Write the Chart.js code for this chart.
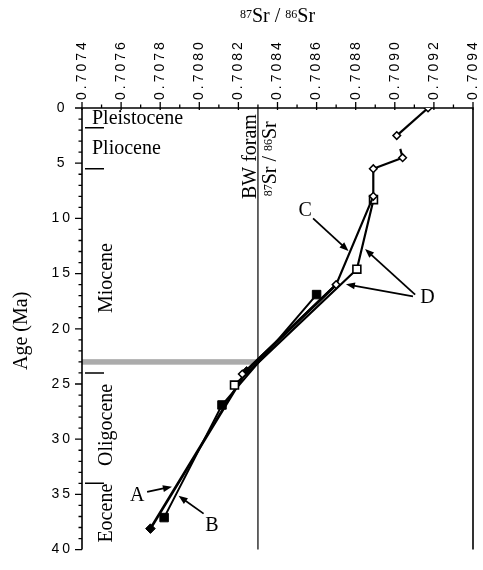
<!DOCTYPE html>
<html>
<head>
<meta charset="utf-8">
<script src="https://cdn.jsdelivr.net/npm/chart.js@4.4.1/dist/chart.umd.min.js"></script>
<style>
  html, body { margin: 0; background: #fff; }
  #wrap { width: 483px; height: 570px; }
</style>
</head>
<body>
<div id="wrap"><canvas id="srChart"></canvas></div>
<script>
// ---- data (age in Ma, 87Sr/86Sr) ----
const openDiamondAge = [0.0, 2.5, 4.5, 5.5, 8.0, 16.0, 24.1];
const openDiamondSr  = [0.70917, 0.70901, 0.70904, 0.70889, 0.70889, 0.70870, 0.70822];

const filledDiamondAge = [16.0, 23.8, 38.1];
const filledDiamondSr  = [0.70870, 0.708242, 0.70775];

const filledSquareAge = [16.9, 26.9, 37.1];
const filledSquareSr  = [0.70860, 0.708116, 0.70782];

const openSquareAge = [8.3, 14.6, 25.1];
const openSquareSr  = [0.708891, 0.708806, 0.70818];

const srTicks  = [0.7074, 0.7076, 0.7078, 0.7080, 0.7082, 0.7084, 0.7086, 0.7088, 0.7090, 0.7092, 0.7094];
const ageTicks = [0, 5, 10, 15, 20, 25, 30, 35, 40];

const bwForamSr = 0.7083;
const shadeAge = [22.75, 23.25];

const epochNames = ['Pleistocene', 'Pliocene', 'Miocene', 'Oligocene', 'Eocene'];
const epochBoundaries = [1.8, 5.5, 24.0, 34.0];

// ---- layout of the text bits ----
const epochLabelAge = [1.42, 4.14, 15.4, 28.7, 36.7];   // baseline for the first two, centre for the rest
const notes = [
  { text: 'C', at: [0.708542, 9.28],  arrows: [[[0.708582, 10.0], [0.708763, 12.95]]] },
  { text: 'D', at: [0.709167, 17.2],  arrows: [[[0.709104, 16.9], [0.708848, 12.78]],
                                              [[0.709093, 17.07], [0.70875, 15.97]]] },
  { text: 'A', at: [0.707682, 35.13], arrows: [[[0.707733, 34.78], [0.70786, 34.3]]] },
  { text: 'B', at: [0.708065, 37.86], arrows: [[[0.708022, 36.74], [0.707894, 35.13]]] }
];

const SERIF = '"Liberation Serif", "Times New Roman", serif';
const SANS = '"Liberation Sans", Arial, sans-serif';

const pts = (ages, srs) => ages.map((a, i) => ({ x: srs[i], y: a }));

// the top curve is broken in two places
const gapDash = { 1: [0, 0.6, 0.4, 1], 3: [0.28, 0.4, 1, 0] };

function drawArrow(ctx, x1, y1, x2, y2) {
  const ang = Math.atan2(y2 - y1, x2 - x1);
  const L = 9, W = 3.5;
  const c = Math.cos(ang), s = Math.sin(ang);
  ctx.lineWidth = 1.8;
  ctx.beginPath();
  ctx.moveTo(x1, y1);
  ctx.lineTo(x2 - c * L * 0.7, y2 - s * L * 0.7);
  ctx.stroke();
  ctx.beginPath();
  ctx.moveTo(x2, y2);
  ctx.lineTo(x2 - c * L + s * W, y2 - s * L - c * W);
  ctx.lineTo(x2 - c * L - s * W, y2 - s * L + c * W);
  ctx.closePath();
  ctx.fill();
}

// "87Sr / 86Sr" with superscripts, baseline at y
function srLabel(ctx, x, y, big, small, centre) {
  const parts = [['87', small, true], ['Sr', big], [' / ', big], ['86', small, true], ['Sr', big]];
  const widths = parts.map(p => { ctx.font = p[1] + 'px ' + SERIF; return ctx.measureText(p[0]).width; });
  const total = widths.reduce((a, b) => a + b, 0);
  let cx = centre ? x - total / 2 : x;
  ctx.textAlign = 'left';
  ctx.textBaseline = 'alphabetic';
  parts.forEach((p, i) => {
    ctx.font = p[1] + 'px ' + SERIF;
    ctx.fillText(p[0], cx, p[2] ? y - big * 0.19 : y);
    cx += widths[i];
  });
}

const decor = {
  id: 'decor',
  beforeDraw(chart) {
    chart.ctx.letterSpacing = '3px';
  },
  beforeDatasetsDraw(chart) {
    const { ctx, chartArea: a, scales: { x, y } } = chart;
    ctx.letterSpacing = '0px';
    ctx.save();
    ctx.strokeStyle = '#000';

    // Oligocene/Miocene boundary shading
    const bx = x.getPixelForValue(bwForamSr);
    const s0 = y.getPixelForValue(shadeAge[0]), s1 = y.getPixelForValue(shadeAge[1]);
    ctx.fillStyle = '#ababab';
    ctx.fillRect(a.left, s0, bx - a.left, s1 - s0);

    // bottom-water foram line
    ctx.lineWidth = 1.2;
    ctx.beginPath();
    ctx.moveTo(bx, a.top);
    ctx.lineTo(bx, a.bottom);
    ctx.stroke();

    // frame: left, top, right
    ctx.lineWidth = 1.6;
    ctx.beginPath();
    ctx.moveTo(a.left, a.bottom);
    ctx.lineTo(a.left, a.top);
    ctx.lineTo(a.right, a.top);
    ctx.lineTo(a.right, a.bottom);
    ctx.stroke();

    // ticks
    ctx.lineWidth = 1.3;
    ctx.beginPath();
    x.ticks.forEach((t, i) => {
      const px = x.getPixelForValue(t.value);
      ctx.moveTo(px, a.top + 2);
      ctx.lineTo(px, a.top - 6);
      const next = x.ticks[i + 1];
      if (next) {
        const mx = x.getPixelForValue((t.value + next.value) / 2);
        ctx.moveTo(mx, a.top);
        ctx.lineTo(mx, a.top - 3.5);
      }
    });
    for (let age = 0; age <= 40; age++) {
      const py = y.getPixelForValue(age);
      ctx.moveTo(a.left, py);
      ctx.lineTo(a.left - (age % 5 === 0 ? 7 : 3.5), py);
    }
    ctx.stroke();

    // x tick labels, read upwards, centred on their ticks
    ctx.fillStyle = '#000';
    ctx.font = '14px ' + SANS;
    ctx.letterSpacing = '3px';
    x.ticks.forEach(t => {
      ctx.save();
      ctx.translate(x.getPixelForValue(t.value), a.top - 8);
      ctx.rotate(-Math.PI / 2);
      ctx.textAlign = 'left';
      ctx.textBaseline = 'middle';
      ctx.fillText(t.value.toFixed(4), 0, 0);
      ctx.restore();
    });
    ctx.letterSpacing = '0px';

    // epoch boundaries
    ctx.lineWidth = 1.5;
    ctx.beginPath();
    epochBoundaries.forEach(b => {
      const py = y.getPixelForValue(b);
      ctx.moveTo(a.left + 3, py);
      ctx.lineTo(a.left + 22, py);
    });
    ctx.stroke();
    ctx.restore();
  },
  afterDraw(chart) {
    const { ctx, chartArea: a, scales: { x, y } } = chart;
    ctx.save();
    ctx.fillStyle = '#000';
    ctx.strokeStyle = '#000';

    // epoch names
    ctx.font = '20px ' + SERIF;
    epochNames.forEach((name, i) => {
      const py = y.getPixelForValue(epochLabelAge[i]);
      if (i < 2) {
        ctx.textAlign = 'left';
        ctx.textBaseline = 'alphabetic';
        ctx.fillText(name, a.left + 10, py);
      } else {
        ctx.save();
        ctx.translate(a.left + 30, py);
        ctx.rotate(-Math.PI / 2);
        ctx.textAlign = 'center';
        ctx.textBaseline = 'alphabetic';
        ctx.fillText(name, 0, 0);
        ctx.restore();
      }
    });

    // BW foram label beside its line
    const bx = x.getPixelForValue(bwForamSr);
    ctx.save();
    ctx.translate(bx - 2, y.getPixelForValue(4.4));
    ctx.rotate(-Math.PI / 2);
    ctx.font = '20px ' + SERIF;
    ctx.textAlign = 'center';
    ctx.textBaseline = 'alphabetic';
    ctx.fillText('BW foram', 0, 0);
    ctx.restore();
    ctx.save();
    ctx.translate(bx + 18, y.getPixelForValue(4.6));
    ctx.rotate(-Math.PI / 2);
    srLabel(ctx, 0, 0, 20, 12, true);
    ctx.restore();

    // axis titles
    srLabel(ctx, (a.left + a.right) / 2, 22, 20, 12, true);
    ctx.save();
    ctx.translate(27, (a.top + a.bottom) / 2 + 2);
    ctx.rotate(-Math.PI / 2);
    ctx.font = '20px ' + SERIF;
    ctx.textAlign = 'center';
    ctx.textBaseline = 'alphabetic';
    ctx.fillText('Age (Ma)', 0, 0);
    ctx.restore();

    // curve labels and arrows
    notes.forEach(n => {
      ctx.font = '20px ' + SERIF;
      ctx.textAlign = 'center';
      ctx.textBaseline = 'middle';
      ctx.fillText(n.text, x.getPixelForValue(n.at[0]), y.getPixelForValue(n.at[1]));
      n.arrows.forEach(([f, t]) => {
        drawArrow(ctx, x.getPixelForValue(f[0]), y.getPixelForValue(f[1]),
                       x.getPixelForValue(t[0]), y.getPixelForValue(t[1]));
      });
    });
    ctx.restore();
  }
};

new Chart(document.getElementById('srChart'), {
  type: 'scatter',
  data: {
    datasets: [
      {
        label: 'open diamonds',
        data: pts(openDiamondAge, openDiamondSr),
        showLine: true,
        order: 1,
        borderColor: '#000',
        borderWidth: 2.2,
        pointStyle: 'rectRot',
        pointRadius: 3.8,
        pointBackgroundColor: '#fff',
        pointBorderColor: '#000',
        pointBorderWidth: 1.5,
        segment: {
          borderDash: c => {
            const f = gapDash[c.p0DataIndex];
            if (!f) return [];
            const len = Math.hypot(c.p1.x - c.p0.x, c.p1.y - c.p0.y);
            return f.map(v => v * len);
          }
        }
      },
      {
        label: 'open squares',
        data: pts(openSquareAge, openSquareSr),
        showLine: true,
        order: 2,
        borderColor: '#000',
        borderWidth: 2.2,
        pointStyle: 'rect',
        pointRadius: 5.6,
        pointBackgroundColor: '#fff',
        pointBorderColor: '#000',
        pointBorderWidth: 1.6
      },
      {
        label: 'filled squares',
        data: pts(filledSquareAge, filledSquareSr),
        showLine: true,
        order: 3,
        borderColor: '#000',
        borderWidth: 2,
        pointStyle: 'rect',
        pointRadius: 6,
        pointBackgroundColor: '#000',
        pointBorderColor: '#000',
        pointBorderWidth: 1
      },
      {
        label: 'filled diamonds',
        data: pts(filledDiamondAge, filledDiamondSr),
        showLine: true,
        order: 4,
        borderColor: '#000',
        borderWidth: 2.8,
        pointStyle: 'rectRot',
        pointRadius: [0, 4.2, 4.8],
        pointBackgroundColor: '#000',
        pointBorderColor: '#000',
        pointBorderWidth: 1
      }
    ]
  },
  options: {
    responsive: true,
    maintainAspectRatio: false,
    animation: false,
    layout: { padding: { top: 0, left: 0, right: 10, bottom: 8 } },
    plugins: { legend: { display: false }, tooltip: { enabled: false } },
    scales: {
      x: {
        type: 'linear',
        position: 'top',
        min: 0.7074,
        max: 0.7094,
        grid: { display: false, drawTicks: false },
        border: { display: false },
        afterBuildTicks: s => { s.ticks = srTicks.map(value => ({ value })); },
        afterFit: s => { s.height = 108; },
        ticks: { display: false }
      },
      y: {
        type: 'linear',
        position: 'left',
        reverse: true,
        min: 0,
        max: 40,
        grid: { display: false, drawTicks: false },
        border: { display: false },
        afterBuildTicks: s => { s.ticks = ageTicks.map(value => ({ value })); },
        afterFit: s => { s.width = 82; },
        ticks: {
          color: '#000',
          font: { family: SANS, size: 14 },
          padding: 12,
          crossAlign: 'center',
          autoSkip: false
        }
      }
    }
  },
  plugins: [decor]
});
</script>
</body>
</html>
